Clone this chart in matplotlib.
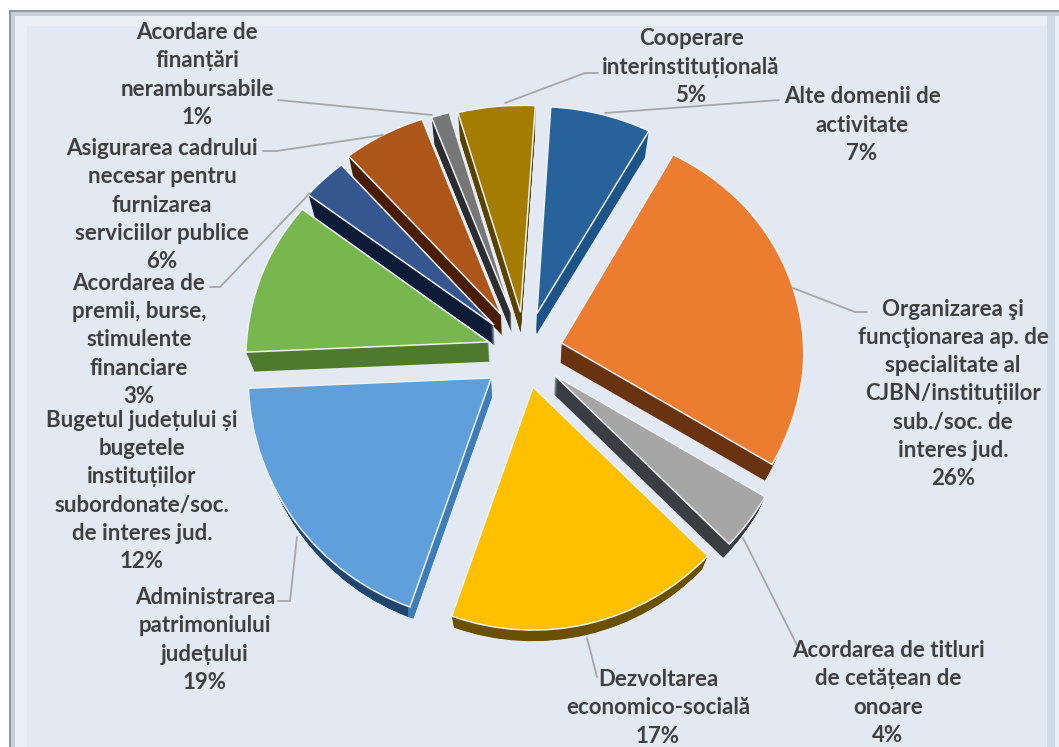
import matplotlib
matplotlib.use("Agg")
import numpy as np
import matplotlib.pyplot as plt
import matplotlib.transforms as mtrans
from matplotlib.patches import Rectangle, Wedge

# clockwise from the top
names = ["Alte domenii de\nactivitate",
         "Organizarea şi\nfuncţionarea ap. de\nspecialitate al\nCJBN/instituțiilor\nsub./soc. de\ninteres jud.",
         "Acordarea de titluri\nde cetățean de\nonoare",
         "Dezvoltarea\neconomico-socială",
         "Administrarea\npatrimoniului\njudețului",
         "Bugetul județului și\nbugetele\ninstituțiilor\nsubordonate/soc.\nde interes jud.",
         "Acordarea de\npremii, burse,\nstimulente\nfinanciare",
         "Asigurarea cadrului\nnecesar pentru\nfurnizarea\nserviciilor publice",
         "Acordare de\nfinanțări\nnerambursabile",
         "Cooperare\ninterinstituțională"]
percent_labels = [7, 26, 4, 17, 19, 12, 3, 6, 1, 5]
# slice sizes as drawn in the picture (the 3D view skews them a little)
shares = [7.2, 25.1, 3.9, 18.2, 18.9, 10.8, 3.2, 5.9, 1.3, 5.5]

top_colors = ["#27639A", "#EC7C30", "#A6A6A6", "#FFC000", "#5F9FDB",
              "#78B64E", "#36568F", "#AE5519", "#777777", "#A37C00"]
side_colors = ["#1C5488", "#69330F", "#3A3D42", "#6B5000", "#3F7DB9",
               "#4F7A2D", "#0E1B36", "#4A1D02", "#2B2D30", "#5A4300"]

# pull-out of each slice, px
explode = [42, 38, 37, 35, 42, 38, 42, 46, 44, 42]

# label centres, px
label_x = [862, 953, 888, 658, 205, 142, 139, 162, 197, 691]
label_y = [125, 394, 693, 708, 640, 491, 340, 205, 75, 67]

leaders = [
    [(779, 100), (605, 113)],
    [(867, 312), (855, 312), (793, 288)],
    [(797, 645), (743, 538)],
    [(597, 677), (587, 638)],
    [(278, 601), (290, 601), (297, 537)],
    [(210, 287), (220, 287), (310, 193)],
    [(263, 151), (277, 151), (383, 135)],
    [(278, 100), (432, 115)],
    [(598, 73), (585, 73), (505, 103)],
]

CX, CY = 525, 353
RADIUS = 243
VP = (525, 1000)
DEPTH = 0.03
PERSP = 1900.0


class Tilt(mtrans.Transform):
    # pie plane to page px, the far half gets smaller
    input_dims = 2
    output_dims = 2

    def transform_non_affine(self, values):
        xy = np.asarray(values, dtype=float)
        up = np.clip(xy[:, 1], 0, None)
        fx = 1 / (1 + up / (2 * PERSP))
        fy = 1 / (1 + up / PERSP)
        return np.column_stack([CX + xy[:, 0] * fx, CY - xy[:, 1] * fy])


fig = plt.figure(figsize=(10.59, 7.47), dpi=100)
ax = fig.add_axes([0, 0, 1, 1])
plt.rcParams["font.family"] = ["Lato", "DejaVu Sans"]

# panel
ax.add_patch(Rectangle((9, 10), 1050, 737, fc="#8F98A5", ec="none", zorder=0))
ax.add_patch(Rectangle((11, 12), 1048, 735, fc="#C9CFD8", ec="none", zorder=0))
ax.add_patch(Rectangle((15, 16), 1044, 731, fc="#EAEFF5", ec="none", zorder=0))
ax.add_patch(Rectangle((27, 26), 1020, 721, fc="#E2E9F3", ec="none", zorder=0))
ax.add_patch(Rectangle((1047, 16), 8, 731, fc="#CFDAE8", ec="none", zorder=0))

tilt = Tilt()
start = 90 - 3.7
left_of_corner = Rectangle((0, 0), 408, 747, transform=ax.transData)

# side walls: stacked copies shrinking towards the vanishing point
for t in np.linspace(1, 0.04, 25):
    s = 1 - DEPTH * t
    shrink = mtrans.Affine2D().translate(-VP[0], -VP[1]).scale(s).translate(VP[0], VP[1])
    wedges, _ = ax.pie(shares, explode=explode, colors=side_colors, startangle=start,
                       counterclock=False, radius=RADIUS, frame=True,
                       wedgeprops=dict(linewidth=0))
    for w in wedges:
        w.set_transform(tilt + shrink + ax.transData)
        w.set_zorder(1)
    # the rim of the light blue slice is darker than its cut face
    w = wedges[4]
    rim = Wedge(w.center, w.r, w.theta1, w.theta2, fc="#21466E", lw=0, zorder=1.5)
    ax.add_patch(rim)
    rim.set_transform(tilt + shrink + ax.transData)
    rim.set_clip_path(left_of_corner)

wedges, _ = ax.pie(shares, explode=explode, colors=top_colors, startangle=start,
                   counterclock=False, radius=RADIUS, frame=True,
                   wedgeprops=dict(linewidth=1.1, edgecolor="#EEF2F7"))
for w in wedges:
    w.set_transform(tilt + ax.transData)
    w.set_zorder(2)

for pts in leaders:
    xs, ys = zip(*pts)
    ax.plot(xs, ys, color="#A6A6A6", lw=1.3, zorder=3, solid_capstyle="round")

for name, v, x, y in zip(names, percent_labels, label_x, label_y):
    ax.text(x, y, f"{name}\n{v}%", ha="center", va="center", multialignment="center",
            fontsize=16, fontweight="bold", color="#404040", linespacing=1.42, zorder=4)

ax.set_xlim(0, 1059)
ax.set_ylim(747, 0)
ax.axis("off")

fig.savefig("out.png", dpi=100, facecolor="white")
